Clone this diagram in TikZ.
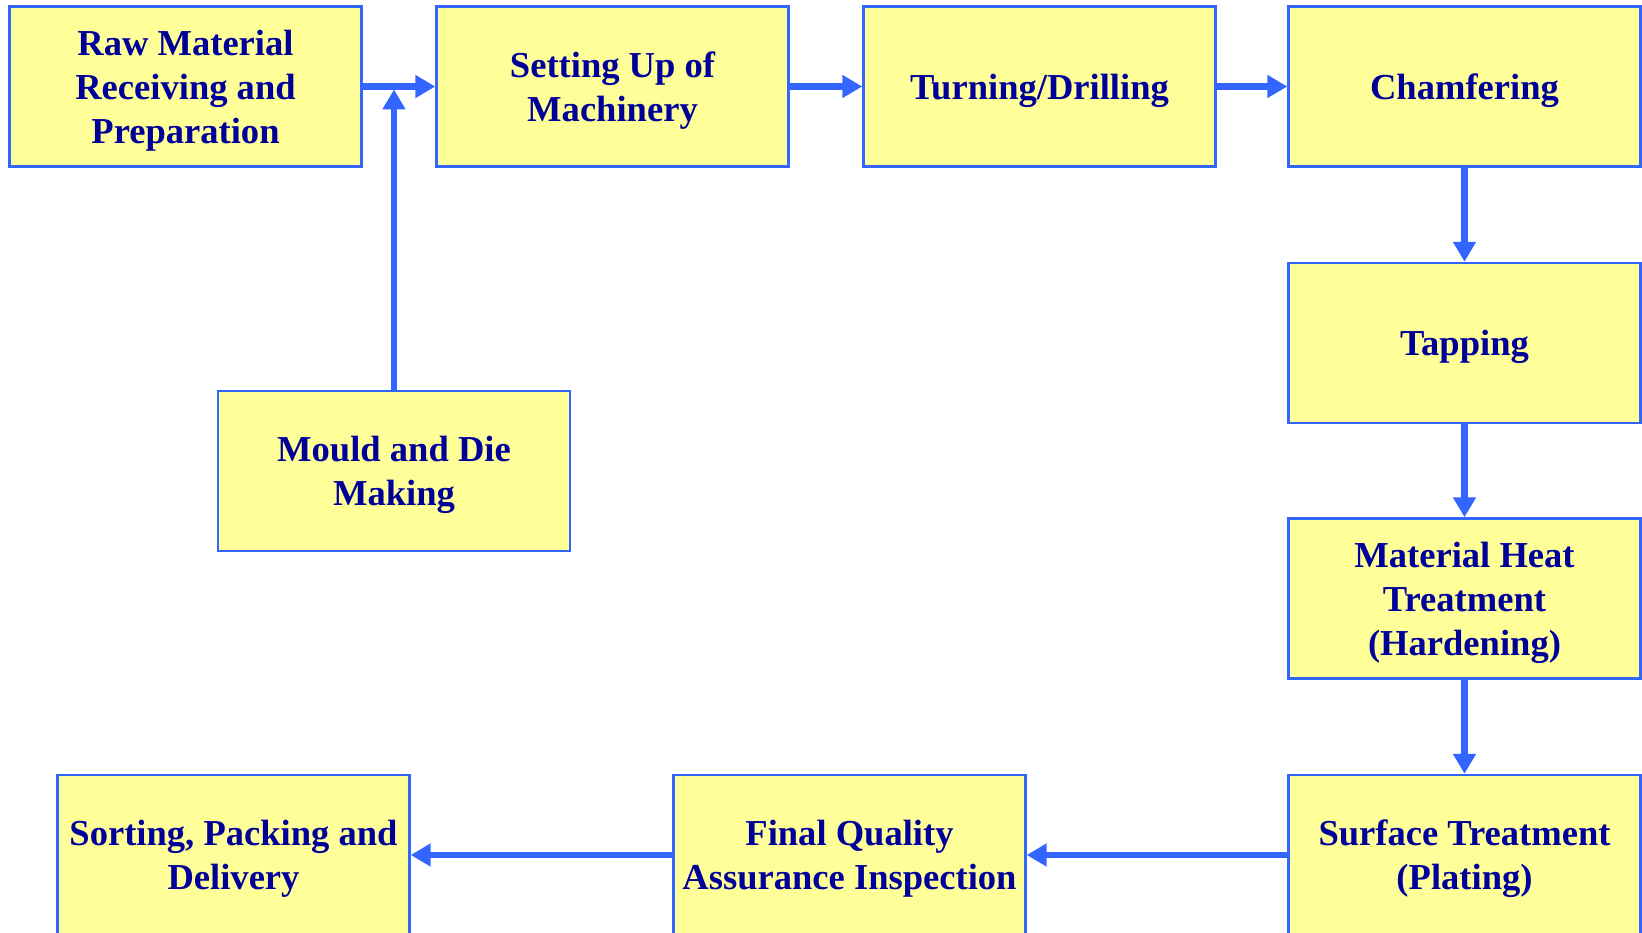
\documentclass[tikz,border=0pt]{standalone}
\usepackage{fontspec}
\setmainfont{Liberation Serif}
\usetikzlibrary{arrows.meta, positioning}
\definecolor{pfyellow}{RGB}{255,255,153}
\definecolor{pfblue}{RGB}{51,102,255}
\definecolor{pfnavy}{RGB}{0,0,153}

\begin{document}
\begin{tikzpicture}[
    stage/.style={rectangle, fill=pfyellow, draw=pfblue, line width=0.7pt,
        minimum width=3.52cm, minimum height=1.6cm, inner sep=1pt,
        align=center, text=pfnavy, font=\fontsize{10.4}{12.5}\selectfont\bfseries,
        text depth=-0.5pt},
    flow/.style={pfblue, line width=1.8pt,
        -{Triangle[length=2mm, width=2.2mm]}}]
  \useasboundingbox (0,0) rectangle (16.42,-9.33);

  % Top row: left to right
  \node[stage] (raw) at (1.855,-0.865) {Raw Material\\Receiving and\\Preparation};
  \node[stage] (setup) at (6.125,-0.865) {Setting Up of\\Machinery};
  \node[stage] (turn) at (10.395,-0.865) {Turning/Drilling};
  \node[stage] (chamf) at (14.645,-0.865) {Chamfering};

  % Side feed into the first link
  \node[stage] (mould) at (3.94,-4.71) {Mould and Die\\Making};

  % Right column: top to bottom
  \node[stage] (tap) at (14.645,-3.43) {Tapping};
  \node[stage] (heat) at (14.645,-5.985) {Material Heat\\Treatment\\(Hardening)};
  \node[stage] (surf) at (14.645,-8.55) {Surface Treatment\\(Plating)};

  % Bottom row: right to left
  \node[stage] (final) at (8.495,-8.55) {Final Quality\\Assurance Inspection};
  \node[stage] (sort) at (2.335,-8.55) {Sorting, Packing and\\Delivery};

  % Connectors
  \coordinate (join) at (mould.north |- raw.east);
  \draw[flow] (raw) -- (setup);
  \draw[flow] (mould) -- ([yshift=-0.03cm]join);
  \draw[flow] (setup) -- (turn);
  \draw[flow] (turn) -- (chamf);
  \draw[flow] (chamf) -- (tap);
  \draw[flow] (tap) -- (heat);
  \draw[flow] (heat) -- (surf);
  \draw[flow] (surf) -- (final);
  \draw[flow] (final) -- (sort);
\end{tikzpicture}
\end{document}
